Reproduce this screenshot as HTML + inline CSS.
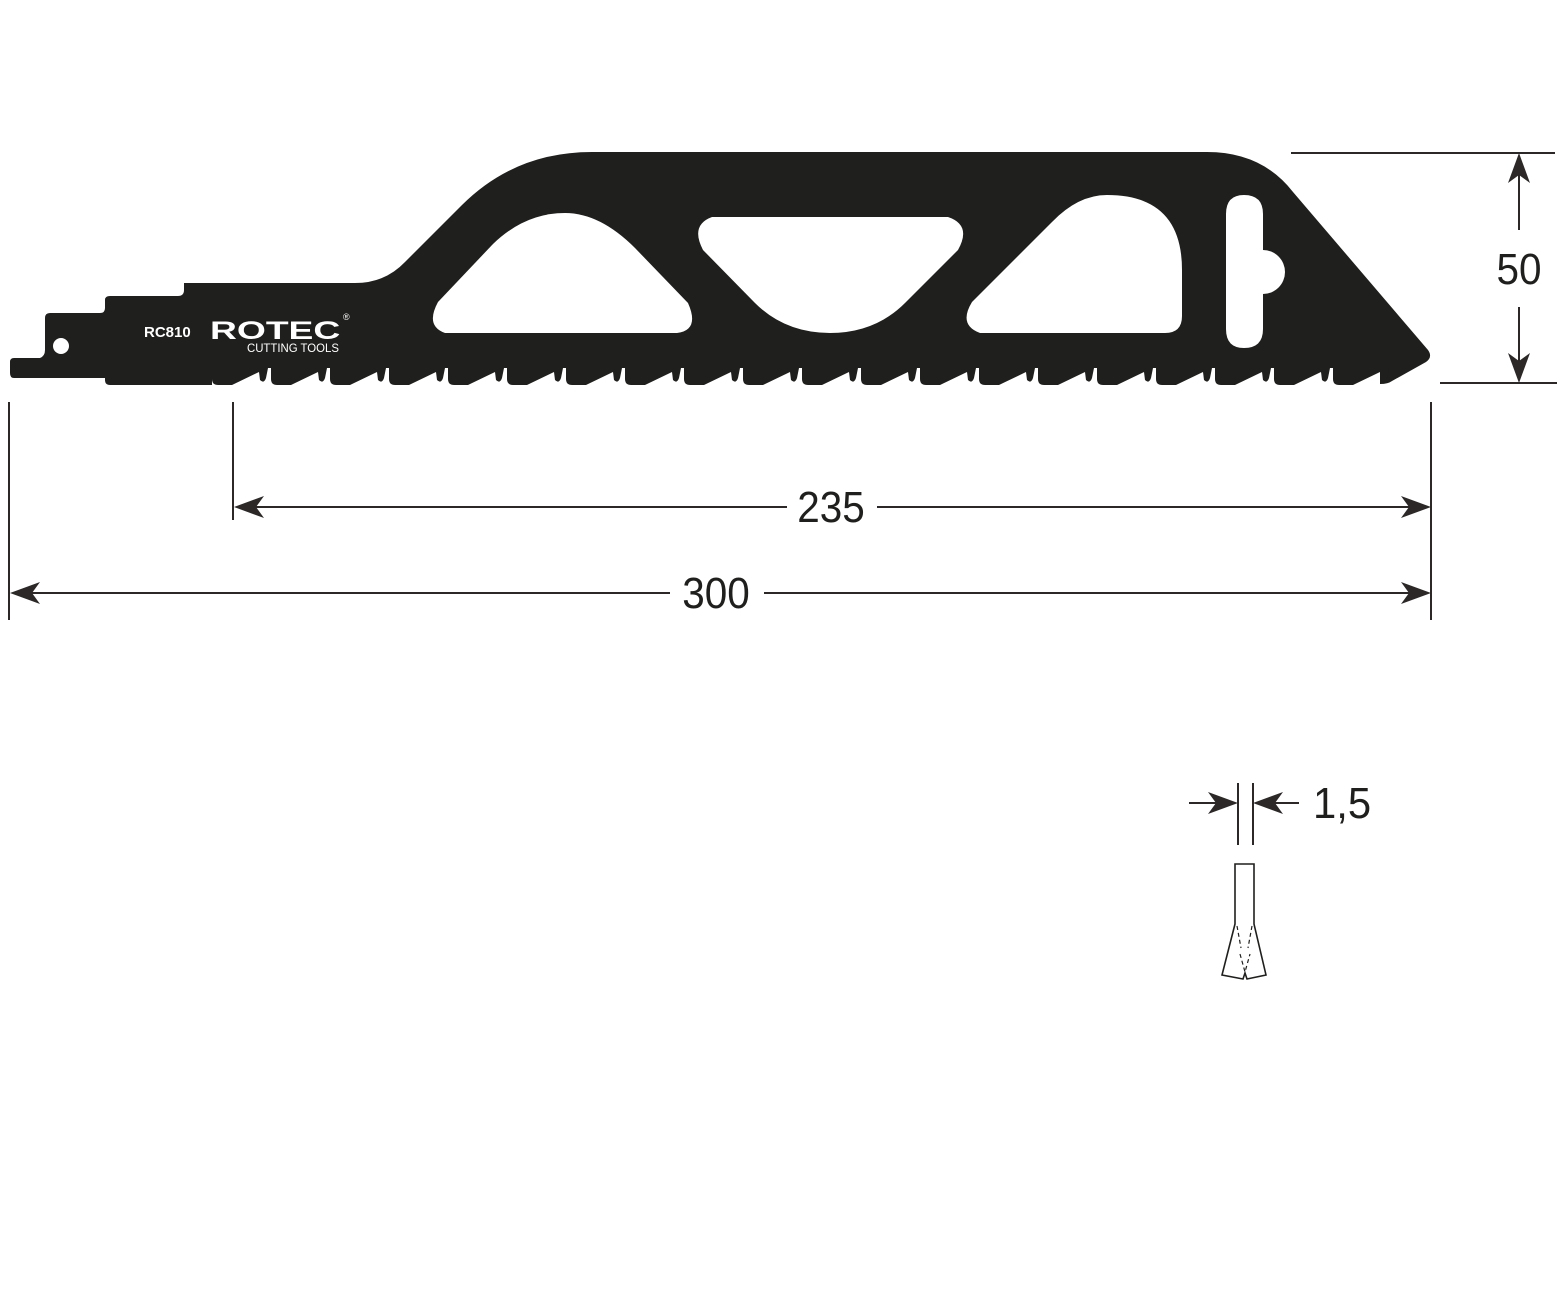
<!DOCTYPE html>
<html><head><meta charset="utf-8"><style>
html,body{margin:0;padding:0;background:#fff;}
svg{display:block}
text{font-family:"Liberation Sans",sans-serif;}
</style></head><body>
<svg width="1560" height="1300" viewBox="0 0 1560 1300" xmlns="http://www.w3.org/2000/svg">
<defs>
<path id="ah" d="M0,0 L30,-11 L22,0 L30,11 Z" fill="#2b2827"/>
<path id="tt" d="M212,367 h56 v1 l-2,10 q-2,6 -6,2 l-1,-8 l-27,13 h-14 q-6,0 -6,-6 Z"/>
</defs>
<path fill="#1f1f1d" d="M14,358 L40,358 Q45,356 45,350 L45,318 Q45,313 50,313 L100,313 Q105,313 105,308 L105,300 Q105,296 110,296 L178,296 Q184,296 184,290 L184,283 L355,283 Q385,283 405,262 L462,205 Q515,152 592,152 L1207,152 Q1262,152 1293,192 L1428,350 Q1433,357 1426,362 L1392,381 Q1388,384 1380,384 L1380,368 L212,368 L212,385 L110,385 Q105,385 105,380 L105,378 L14,378 Q10,378 10,373 L10,362 Q10,358 14,358 Z"/>
<g fill="#1f1f1d">
<use href="#tt"/>
<use href="#tt" x="59"/>
<use href="#tt" x="118"/>
<use href="#tt" x="177"/>
<use href="#tt" x="236"/>
<use href="#tt" x="295"/>
<use href="#tt" x="354"/>
<use href="#tt" x="413"/>
<use href="#tt" x="472"/>
<use href="#tt" x="531"/>
<use href="#tt" x="590"/>
<use href="#tt" x="649"/>
<use href="#tt" x="708"/>
<use href="#tt" x="767"/>
<use href="#tt" x="826"/>
<use href="#tt" x="885"/>
<use href="#tt" x="944"/>
<use href="#tt" x="1003"/>
<use href="#tt" x="1062"/>
<use href="#tt" x="1121"/>
</g>
<g fill="#fff">
<circle cx="61" cy="346" r="8"/>
<path d="M445,333 L677,333 Q700,330 688,303 L635,248 Q600,213 565,213 Q525,213 493,244 L438,302 Q425,326 445,333 Z"/>
<path d="M712,217 L948,217 Q972,225 958,250 L905,303 Q875,333 830,333 Q785,333 755,303 L703,250 Q690,225 712,217 Z"/>
<path d="M980,333 L1165,333 Q1182,333 1182,316 L1182,270 Q1182,195 1107,195 Q1078,195 1052,222 L972,302 Q958,325 980,333 Z"/>
<path d="M1244,195 Q1263,195 1263,214 L1263,250 A22,22 0 0 1 1263,294 L1263,329 Q1263,348 1244,348 Q1226,348 1226,329 L1226,214 Q1226,195 1244,195 Z"/>
</g>
<text x="144" y="337" font-size="15" font-weight="bold" fill="#fff">RC810</text>
<text x="210" y="339" font-size="28" font-weight="bold" fill="#fff" transform="translate(210,339) scale(1.33,0.9) translate(-210,-339)">ROTEC</text>
<text x="343" y="320" font-size="9" fill="#fff">®</text>
<text x="247" y="352" font-size="12" fill="#fff" transform="translate(247,0) scale(0.95,1) translate(-247,0)">CUTTING TOOLS</text>

<g stroke="#2b2827" stroke-width="2" fill="none">
<line x1="1291" y1="153" x2="1555" y2="153"/>
<line x1="1440" y1="383" x2="1557" y2="383"/>
<line x1="1519" y1="160" x2="1519" y2="230"/>
<line x1="1519" y1="307" x2="1519" y2="378"/>
<line x1="9" y1="402" x2="9" y2="620"/>
<line x1="233" y1="402" x2="233" y2="520"/>
<line x1="1431" y1="402" x2="1431" y2="620"/>
<line x1="240" y1="507" x2="787" y2="507"/>
<line x1="877" y1="507" x2="1426" y2="507"/>
<line x1="15" y1="593" x2="670" y2="593"/>
<line x1="764" y1="593" x2="1426" y2="593"/>
<line x1="1238" y1="783" x2="1238" y2="845"/>
<line x1="1253" y1="783" x2="1253" y2="845"/>
<line x1="1189" y1="803" x2="1232" y2="803"/>
<line x1="1258" y1="803" x2="1299" y2="803"/>
</g>
<use href="#ah" transform="translate(1519,153) rotate(90)"/>
<use href="#ah" transform="translate(1519,383) rotate(-90)"/>
<use href="#ah" transform="translate(234,507)"/>
<use href="#ah" transform="translate(1431,507) rotate(180)"/>
<use href="#ah" transform="translate(10,593)"/>
<use href="#ah" transform="translate(1431,593) rotate(180)"/>
<use href="#ah" transform="translate(1238,803) rotate(180)"/>
<use href="#ah" transform="translate(1253,803)"/>
<g fill="#1f1f1d" font-size="44">
<text x="831" y="522" text-anchor="middle" transform="translate(831,0) scale(0.92,1) translate(-831,0)">235</text>
<text x="716" y="608" text-anchor="middle" transform="translate(716,0) scale(0.92,1) translate(-716,0)">300</text>
<text x="1519" y="284" text-anchor="middle" transform="translate(1519,0) scale(0.92,1) translate(-1519,0)">50</text>
<text x="1313" y="818" transform="translate(1313,0) scale(0.95,1) translate(-1313,0)">1,5</text>
</g>
<g stroke="#1f1f1d" stroke-width="1.6" fill="#fff">
<path d="M1235,924 L1235,864 L1254,864 L1254,924 L1266,975 L1247,979 L1245,973 L1243,979 L1222,975 Z"/>
</g>
<g stroke="#1f1f1d" stroke-width="1.2" fill="none" stroke-dasharray="4,3">
<path d="M1237,926 L1241,948 M1252,926 L1248,948 M1240,954 L1245,972 L1250,954"/>
</g>
</svg>
</body></html>
